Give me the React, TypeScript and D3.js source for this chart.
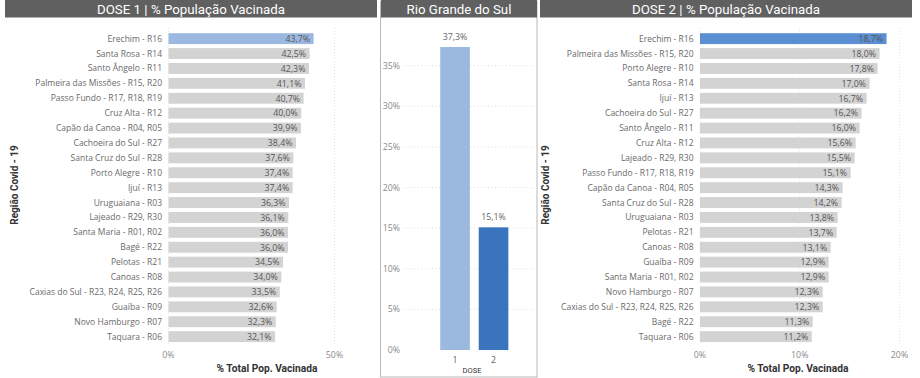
import React from "react";
import * as d3 from "d3";

const dose1Regions = [
  "Erechim - R16",
  "Santa Rosa - R14",
  "Santo Ângelo - R11",
  "Palmeira das Missões - R15, R20",
  "Passo Fundo - R17, R18, R19",
  "Cruz Alta - R12",
  "Capão da Canoa - R04, R05",
  "Cachoeira do Sul - R27",
  "Santa Cruz do Sul - R28",
  "Porto Alegre - R10",
  "Ijuí - R13",
  "Uruguaiana - R03",
  "Lajeado - R29, R30",
  "Santa Maria - R01, R02",
  "Bagé - R22",
  "Pelotas - R21",
  "Canoas - R08",
  "Caxias do Sul - R23, R24, R25, R26",
  "Guaíba - R09",
  "Novo Hamburgo - R07",
  "Taquara - R06",
];
const dose1Values = [43.7, 42.5, 42.3, 41.1, 40.7, 40.0, 39.9, 38.4, 37.6, 37.4, 37.4, 36.3, 36.1, 36.0, 36.0, 34.5, 34.0, 33.5, 32.6, 32.3, 32.1];

const dose2Regions = [
  "Erechim - R16",
  "Palmeira das Missões - R15, R20",
  "Porto Alegre - R10",
  "Santa Rosa - R14",
  "Ijuí - R13",
  "Cachoeira do Sul - R27",
  "Santo Ângelo - R11",
  "Cruz Alta - R12",
  "Lajeado - R29, R30",
  "Passo Fundo - R17, R18, R19",
  "Capão da Canoa - R04, R05",
  "Santa Cruz do Sul - R28",
  "Uruguaiana - R03",
  "Pelotas - R21",
  "Canoas - R08",
  "Guaíba - R09",
  "Santa Maria - R01, R02",
  "Novo Hamburgo - R07",
  "Caxias do Sul - R23, R24, R25, R26",
  "Bagé - R22",
  "Taquara - R06",
];
const dose2Values = [18.7, 18.0, 17.8, 17.0, 16.7, 16.2, 16.0, 15.6, 15.5, 15.1, 14.3, 14.2, 13.8, 13.7, 13.1, 12.9, 12.9, 12.3, 12.3, 11.3, 11.2];

const stateDoses = ["1", "2"];
const stateValues = [37.3, 15.1];

const dose1Ticks = [0, 50];
const dose2Ticks = [0, 10, 20];
const stateTicks = [0, 5, 10, 15, 20, 25, 30, 35];

const locale = d3.formatLocale({ decimal: ",", thousands: ".", grouping: [3], currency: ["", ""] });
const fmt1 = locale.format(".1f");
const pct1 = (v: number) => fmt1(v) + "%";
const pct0 = (v: number) => v + "%";

const FONT = "'Open Sans', 'Noto Sans', sans-serif";
const TITLE_FONT = "'Roboto', 'DejaVu Sans', sans-serif";

type BarPanelProps = {
  regions: string[];
  values: number[];
  domainMax: number;
  ticks: number[];
  x0: number;
  x1: number;
  highlight: string;
  axisTitleX: number;
  yTitleX: number;
};

function BarPanel({ regions, values, domainMax, ticks, x0, x1, highlight, axisTitleX, yTitleX }: BarPanelProps) {
  const x = d3.scaleLinear().domain([0, domainMax]).range([x0, x1]);
  const y = d3.scaleBand<string>().domain(regions).range([31.2, 344.1]).paddingInner(0.27).paddingOuter(0.135);
  const bw = y.bandwidth();
  return (
    <g>
      {ticks.map((t) => (
        <line key={"g" + t} x1={x(t)} x2={x(t)} y1={28} y2={346} stroke="#e4e4e4" strokeDasharray="1,2" />
      ))}
      {regions.map((r, i) => (
        <g key={r}>
          <rect x={x(0)} y={y(r)} width={x(values[i]) - x(0)} height={bw} fill={i === 0 ? highlight : "#d3d3d3"} />
          <text x={x0 - 6.5} y={(y(r) as number) + bw / 2} dy="0.35em" textAnchor="end" fontSize={8.5} fill="#6a6a6a" fontFamily={FONT}>
            {r}
          </text>
          <text x={x(values[i]) - 3.5} y={(y(r) as number) + bw / 2} dy="0.38em" textAnchor="end" fontSize={8.8} fill={"#555"} fontFamily={FONT}>
            {pct1(values[i])}
          </text>
        </g>
      ))}
      {ticks.map((t) => (
        <text key={"t" + t} x={x(t)} y={355} dy="0.35em" textAnchor="middle" fontSize={8.8} fill="#8a8a8a" fontFamily={FONT}>
          {pct0(t)}
        </text>
      ))}
      <text x={axisTitleX} y={368} dy="0.35em" textAnchor="middle" fontSize={10.2} fontWeight="bold" fill="#333" fontFamily={TITLE_FONT}>
        % Total Pop. Vacinada
      </text>
      <text transform={`translate(${yTitleX},185) rotate(-90)`} textAnchor="middle" dy="0.35em" fontSize={10} fontWeight="bold" fill="#333" fontFamily={TITLE_FONT}>
        Região Covid - 19
      </text>
    </g>
  );
}

function StatePanel() {
  const y = d3.scaleLinear().domain([0, 35]).range([350, 65.7]);
  const x = d3.scaleBand<string>().domain(stateDoses).range([425.3, 523.3]).paddingInner(0.23).paddingOuter(0.388);
  const colors = ["#9bb9df", "#3a74bf"];
  return (
    <g>
      <rect x={380.5} y={1.5} width={156.5} height={375.5} fill="none" stroke="#b8b8b8" />
      {stateTicks.map((t) => (
        <g key={t}>
          {t > 0 && <line x1={404} x2={534} y1={y(t)} y2={y(t)} stroke="#dcdcdc" strokeDasharray="1,2.5" />}
          <text x={400} y={y(t)} dy="0.35em" textAnchor="end" fontSize={8.8} fill="#8a8a8a" fontFamily={FONT}>
            {pct0(t)}
          </text>
        </g>
      ))}
      {stateDoses.map((d, i) => (
        <g key={d}>
          <rect x={x(d)} y={y(stateValues[i])} width={x.bandwidth()} height={y(0) - y(stateValues[i])} fill={colors[i]} />
          <text x={(x(d) as number) + x.bandwidth() / 2} y={y(stateValues[i]) - 8} dy="0.1em" textAnchor="middle" fontSize={8.8} fill="#666" fontFamily={FONT}>
            {pct1(stateValues[i])}
          </text>
          <text x={(x(d) as number) + x.bandwidth() / 2} y={359.5} dy="0.35em" textAnchor="middle" fontSize={8.8} fill="#666" fontFamily={FONT}>
            {d}
          </text>
        </g>
      ))}
      <text x={472} y={370} dy="0.35em" textAnchor="middle" fontSize={7.5} fill="#333" fontFamily={TITLE_FONT}>
        DOSE
      </text>
    </g>
  );
}

function TitleBar({ x0, x1, text }: { x0: number; x1: number; text: string }) {
  return (
    <g>
      <rect x={x0} y={0} width={x1 - x0} height={17.5} fill="#606060" />
      <text x={(x0 + x1) / 2} y={9} dy="0.36em" textAnchor="middle" fontSize={13.3} fill="#ffffff" fontFamily={TITLE_FONT}>
        {text}
      </text>
    </g>
  );
}

export default function App() {
  return (
    <svg width={920} height={378} style={{ position: "absolute", left: 0, top: 0, background: "#fff" }}>
      <rect x={0} y={0} width={920} height={378} fill="#fff" />
      <BarPanel
        regions={dose1Regions}
        values={dose1Values}
        domainMax={50}
        ticks={dose1Ticks}
        x0={168.5}
        x1={334.5}
        highlight="#9bb9e0"
        axisTitleX={267}
        yTitleX={14}
      />
      <StatePanel />
      <BarPanel
        regions={dose2Regions}
        values={dose2Values}
        domainMax={20}
        ticks={dose2Ticks}
        x0={700}
        x1={899.5}
        highlight="#5b8fd2"
        axisTitleX={798}
        yTitleX={545}
      />
      <TitleBar x0={5} x1={377} text="DOSE 1 | % População Vacinada" />
      <TitleBar x0={381} x1={537} text="Rio Grande do Sul" />
      <TitleBar x0={540} x1={912} text="DOSE 2 | % População Vacinada" />
    </svg>
  );
}
